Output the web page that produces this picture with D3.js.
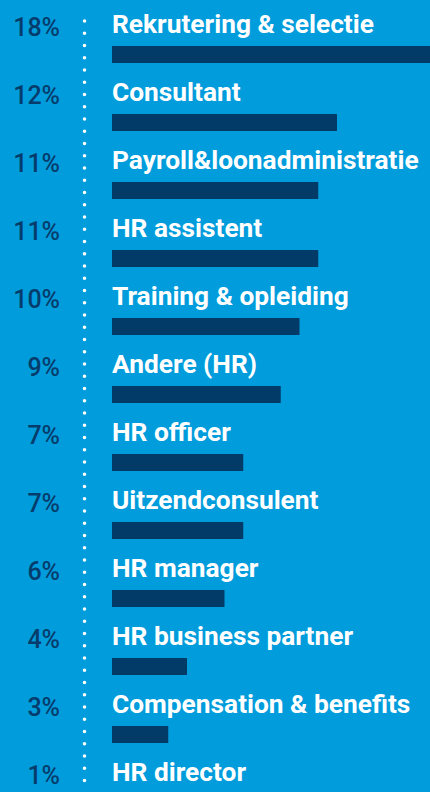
<!DOCTYPE html>
<html>
<head>
<meta charset="utf-8">
<script src="https://cdn.jsdelivr.net/npm/d3@7"></script>
<style>
  body { margin: 0; background: #019cdc; }
  svg { display: block; }
</style>
</head>
<body>
<script>
// data
var categories = [
    "Rekrutering & selectie",
    "Consultant",
    "Payroll&loonadministratie",
    "HR assistent",
    "Training & opleiding",
    "Andere (HR)",
    "HR officer",
    "Uitzendconsulent",
    "HR manager",
    "HR business partner",
    "Compensation & benefits",
    "HR director"
];
var values = [18, 12, 11, 11, 10, 9, 7, 7, 6, 4, 3, 1];

var width = 430,
    height = 792;

var svg = d3.select('body')
    .append('svg')
    .attr('width', width)
    .attr('height', height);

svg.append('rect')
    .attr('width', width)
    .attr('height', height)
    .attr('fill', '#019cdc');

// one row per category
var y = d3.scaleBand()
    .domain(categories)
    .range([0, categories.length * 68]);

var x = d3.scaleLinear()
    .domain([0, 20])
    .range([112, 112 + 375]);

// dotted separator
svg.append('line')
    .attr('x1', 84.5)
    .attr('x2', 84.5)
    .attr('y1', 21)
    .attr('y2', height)
    .attr('stroke', '#fff')
    .attr('stroke-width', 3.6)
    .attr('stroke-linecap', 'round')
    .attr('stroke-dasharray', '0 12.25');

var rows = svg.selectAll('g.row')
    .data(categories)
    .enter()
    .append('g')
    .attr('class', 'row')
    .attr('transform', function(d) { return 'translate(0,' + y(d) + ')'; });

rows.append('rect')
    .attr('x', x(0))
    .attr('y', 46)
    .attr('height', 17)
    .attr('width', function(d, i) { return x(values[i]) - x(0); })
    .attr('fill', '#023a68');

rows.append('text')
    .attr('x', 112)
    .attr('y', 33)
    .attr('fill', '#fff')
    .style('font-family', 'Roboto')
    .style('font-weight', 'bold')
    .style('font-size', '26.3px')
    .text(function(d) { return d; });

rows.append('text')
    .attr('x', 60)
    .attr('y', 35.5)
    .attr('text-anchor', 'end')
    .attr('fill', '#053c6c')
    .style('font-family', 'Roboto')
    .style('font-weight', 500)
    .style('font-size', '25px')
    .text(function(d, i) { return values[i] + '%'; });
</script>
</body>
</html>
